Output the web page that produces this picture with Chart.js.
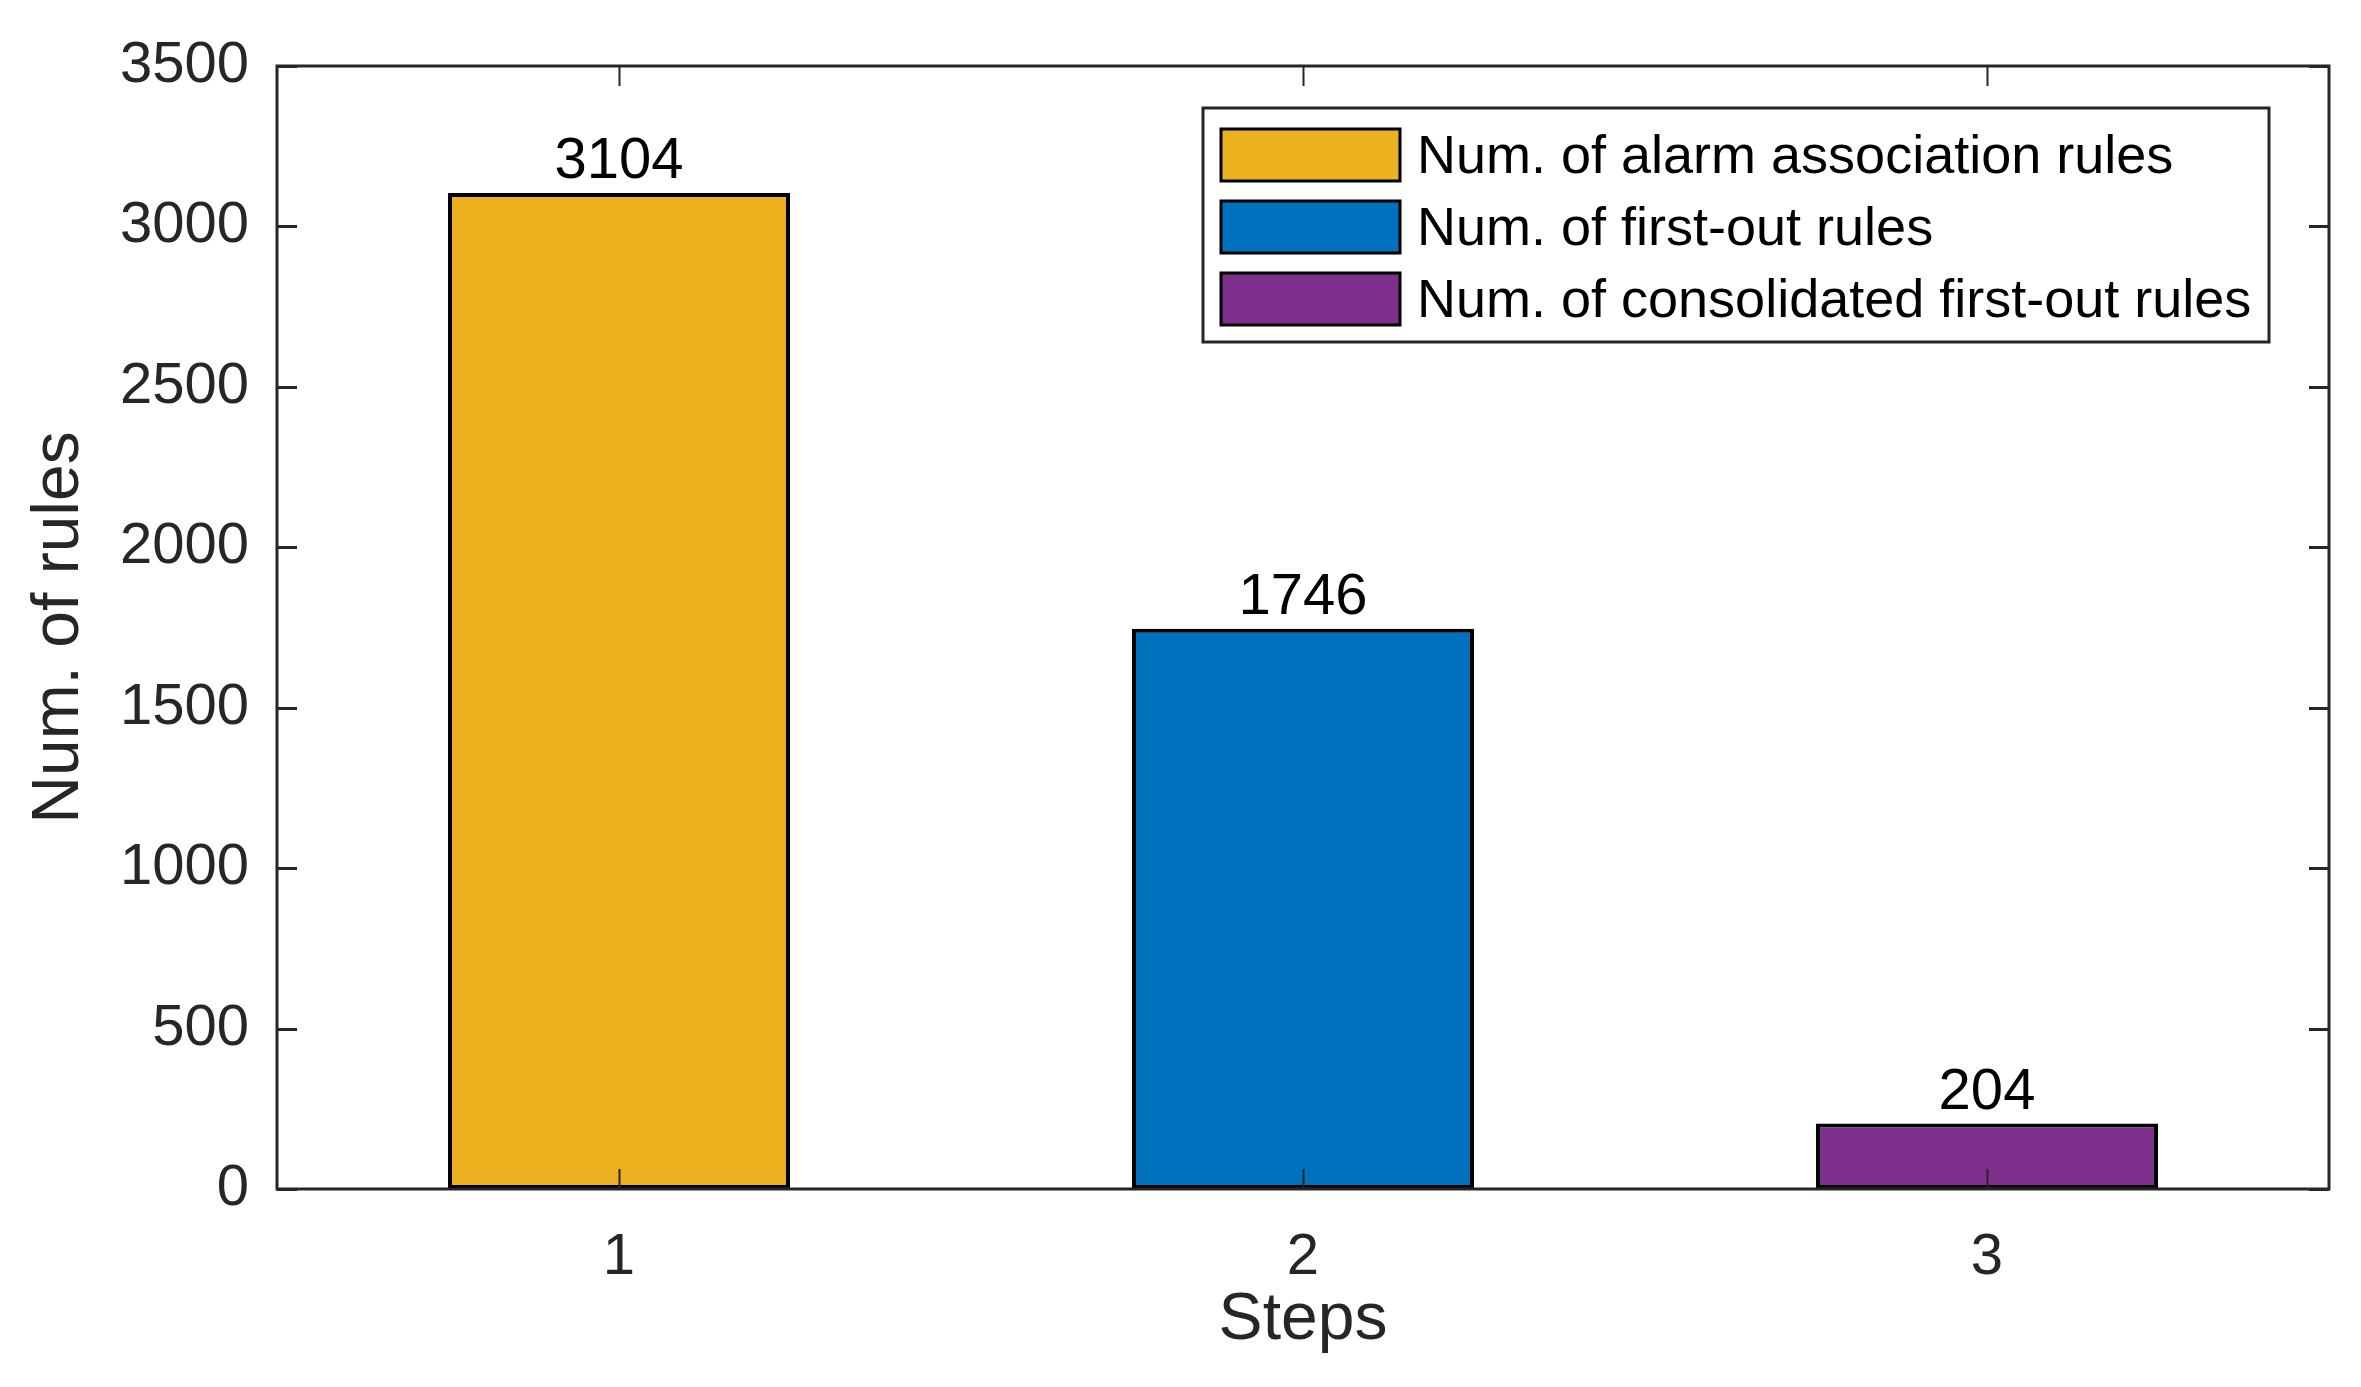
<!DOCTYPE html>
<html>
<head>
<meta charset="utf-8">
<script src="https://cdn.jsdelivr.net/npm/chart.js@4.4.0/dist/chart.umd.min.js"></script>
<style>
  html, body { margin: 0; padding: 0; background: #fff; }
  #wrap { width: 2361px; height: 1387px; }
</style>
</head>
<body>
<div id="wrap"><canvas id="rulesChart" width="2361" height="1387"></canvas></div>
<script>
// data
const steps = ['1', '2', '3'];
const seriesNames = [
  'Num. of alarm association rules',
  'Num. of first-out rules',
  'Num. of consolidated first-out rules'
];
const alarmRules = [3104, null, null];
const firstOutRules = [null, 1746, null];
const consolidatedRules = [null, null, 204];
const yMax = 3500;
const yStep = 500;

const seriesColors = ['#EDB120', '#0072BD', '#7E2F8E'];
const axisColor = '#262626';
const fontFamily = '"Liberation Sans", Arial, Helvetica, sans-serif';

// box around the axes plus inward tick marks on all four sides (matlab style)
const boxTicks = {
  id: 'boxTicks',
  afterDatasetsDraw(chart) {
    const ctx = chart.ctx;
    const a = chart.chartArea;
    const len = 20;
    ctx.save();
    ctx.strokeStyle = axisColor;
    ctx.lineWidth = 3;
    chart.scales.y.ticks.forEach(t => {
      const py = Math.round(chart.scales.y.getPixelForValue(t.value)) + 0.5;
      ctx.beginPath();
      ctx.moveTo(a.left, py); ctx.lineTo(a.left + len, py);
      ctx.moveTo(a.right, py); ctx.lineTo(a.right - len, py);
      ctx.stroke();
    });
    ctx.lineWidth = 2;
    chart.scales.x.ticks.forEach((t, i) => {
      const px = Math.round(chart.scales.x.getPixelForTick(i)) + 0.5;
      ctx.beginPath();
      ctx.moveTo(px, a.bottom); ctx.lineTo(px, a.bottom - len);
      ctx.moveTo(px, a.top); ctx.lineTo(px, a.top + len);
      ctx.stroke();
    });
    ctx.lineWidth = 3;
    ctx.strokeRect(a.left, a.top, a.right - a.left, a.bottom - a.top);
    ctx.restore();
  }
};

// value printed above each bar
const barValues = {
  id: 'barValues',
  afterDatasetsDraw(chart) {
    const ctx = chart.ctx;
    ctx.save();
    ctx.fillStyle = '#000';
    ctx.font = '58px ' + fontFamily;
    ctx.textAlign = 'center';
    ctx.textBaseline = 'bottom';
    chart.data.datasets.forEach((ds, di) => {
      chart.getDatasetMeta(di).data.forEach((bar, i) => {
        if (ds.data[i] == null) return;
        ctx.fillText(String(ds.data[i]), bar.x, bar.y - 2);
      });
    });
    ctx.restore();
  }
};

// legend drawn inside the axes, top right
const innerLegend = {
  id: 'innerLegend',
  afterDraw(chart) {
    const ctx = chart.ctx;
    const a = chart.chartArea;
    const boxW = 1066, boxH = 234;
    const bx = a.right - 60 - boxW;
    const by = a.top + 42;
    ctx.save();
    ctx.fillStyle = '#fff';
    ctx.fillRect(bx, by, boxW, boxH);
    ctx.strokeStyle = axisColor;
    ctx.lineWidth = 3;
    ctx.strokeRect(bx, by, boxW, boxH);
    ctx.font = '54px ' + fontFamily;
    ctx.textBaseline = 'middle';
    chart.data.datasets.forEach((ds, i) => {
      const sy = by + 21 + i * 72;
      ctx.fillStyle = ds.backgroundColor;
      ctx.fillRect(bx + 18, sy, 179, 52);
      ctx.strokeStyle = '#000';
      ctx.lineWidth = 3;
      ctx.strokeRect(bx + 18, sy, 179, 52);
      ctx.fillStyle = '#000';
      ctx.fillText(ds.label, bx + 214, sy + 29);
    });
    ctx.restore();
  }
};

const datasets = [alarmRules, firstOutRules, consolidatedRules].map((d, i) => ({
  label: seriesNames[i],
  data: d,
  backgroundColor: seriesColors[i],
  borderColor: '#000',
  borderWidth: 4,
  borderSkipped: false
}));

const rulesChart = new Chart(document.getElementById('rulesChart'), {
  type: 'bar',
  data: { labels: steps, datasets: datasets },
  options: {
    responsive: false,
    animation: false,
    devicePixelRatio: 1,
    grouped: false,
    categoryPercentage: 1.0,
    barPercentage: 0.5,
    layout: { padding: { top: 66, right: 32, left: 0, bottom: 0 } },
    plugins: {
      legend: { display: false },
      tooltip: { enabled: false }
    },
    scales: {
      x: {
        grid: { display: false, drawTicks: false },
        border: { display: false },
        ticks: { color: axisColor, font: { size: 58, family: fontFamily }, padding: 34 },
        title: {
          display: true, text: 'Steps', color: axisColor,
          font: { size: 66, family: fontFamily }, padding: { top: 0, bottom: 27 }
        },
        afterFit(s) { s.height = 198; }
      },
      y: {
        min: 0,
        max: yMax,
        grid: { display: false, drawTicks: false },
        border: { display: false },
        ticks: {
          stepSize: yStep, color: axisColor, font: { size: 58, family: fontFamily }, padding: 28,
          callback: v => String(v)
        },
        title: {
          display: true, text: 'Num. of rules', color: axisColor,
          font: { size: 66, family: fontFamily }, padding: { top: 20, bottom: 0 }
        },
        afterFit(s) { s.width = 277; }
      }
    }
  },
  plugins: [boxTicks, barValues, innerLegend]
});
</script>
</body>
</html>
